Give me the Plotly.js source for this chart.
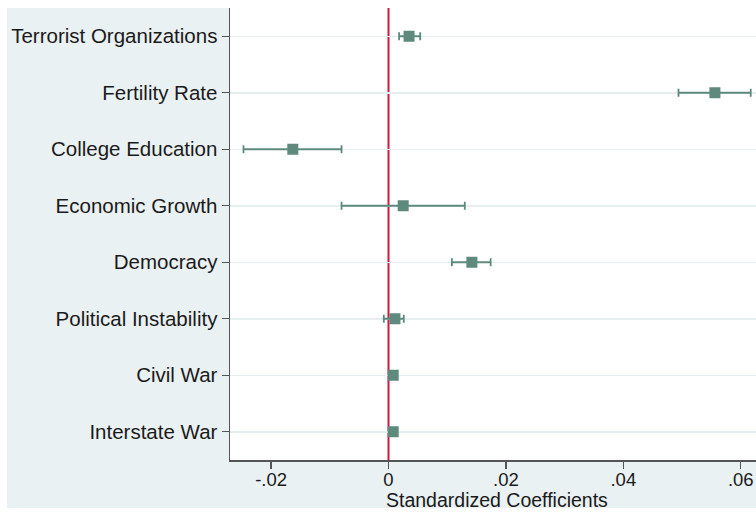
<!DOCTYPE html>
<html><head><meta charset="utf-8">
<script src="https://cdn.plot.ly/plotly-3.0.1.min.js"></script>
<style>html,body{margin:0;padding:0;background:#fff}#chart{width:756px;height:512px}</style>
</head><body><div id="chart"></div>
<script>
const categories = ["Terrorist Organizations","Fertility Rate","College Education","Economic Growth","Democracy","Political Instability","Civil War","Interstate War"];
const coef  = [0.0035, 0.0556, -0.0163, 0.0025, 0.0142, 0.0011, 0.0008, 0.0008];
const lower = [0.0018, 0.0494, -0.0247, -0.0080, 0.0108, -0.0008, 0.0004, 0.0005];
const upper = [0.0054, 0.0617, -0.0080, 0.0130, 0.0174, 0.0026, 0.0012, 0.0011];
const xTickVals = [-0.02, 0, 0.02, 0.04, 0.06];
const xTickText = ["-.02", "0", ".02", ".04", ".06"];
const xTitle = "Standardized Coefficients";

const W = 756, H = 512, L = 230, R = 0, T = 8, B = 52;
const pw = W - L - R, ph = H - T - B;
const px = v => (v - L) / pw;
const py = v => (H - B - v) / ph;
const col = "#5d8a7c";

const trace = {
  type: "scatter", mode: "markers",
  x: coef, y: categories,
  marker: {symbol: "square", size: 11, color: col},
  error_x: {type: "data", symmetric: false,
    array: upper.map((u, i) => u - coef[i]),
    arrayminus: coef.map((c, i) => c - lower[i]),
    color: col, thickness: 1.8, width: 4},
  hoverinfo: "skip", showlegend: false, cliponaxis: false
};

const font = {family: "Liberation Sans, Arial, sans-serif", size: 21, color: "#1a1a1a"};
const layout = {
  width: W, height: H,
  margin: {l: L, r: R, t: T, b: B, pad: 0},
  paper_bgcolor: "#ffffff", plot_bgcolor: "rgba(0,0,0,0)",
  font: font, showlegend: false,
  xaxis: {range: [-0.027, 0.0626], tickvals: xTickVals, ticktext: xTickText,
    ticks: "outside", ticklen: 7, tickwidth: 1.3, tickcolor: "#555",
    ticklabelstandoff: -5,
    showgrid: false, zeroline: false, showline: true, linecolor: "#555", linewidth: 1.5,
    tickfont: {size: 18.5, color: "#1a1a1a"}, fixedrange: true},
  yaxis: {type: "category", categoryarray: categories, range: [7.5, -0.5],
    ticks: "outside", ticklen: 7, tickwidth: 1.3, tickcolor: "#555",
    showgrid: true, gridcolor: "#e6eff0", gridwidth: 1.5,
    zeroline: false, showline: true, linecolor: "#555", linewidth: 1.5,
    tickfont: {size: 20.5, color: "#1a1a1a"}, fixedrange: true},
  shapes: [
    {type: "rect", xref: "paper", yref: "paper", x0: px(7), x1: 1, y0: py(508), y1: py(8),
     fillcolor: "#eaf1f3", line: {width: 0}, layer: "below"},
    {type: "rect", xref: "paper", yref: "paper", x0: 0, x1: 1, y0: 0, y1: 1,
     fillcolor: "#ffffff", line: {width: 0}, layer: "below"},
    {type: "line", xref: "x", yref: "paper", x0: 0, x1: 0, y0: 0, y1: 1,
     line: {color: "#d2163e", width: 2}, layer: "below"}
  ],
  annotations: [
    {text: xTitle, xref: "paper", yref: "paper", x: px(497), y: py(512),
     xanchor: "center", yanchor: "bottom", showarrow: false, borderpad: 0,
     font: {size: 19.5, color: "#1a1a1a"}}
  ]
};
Plotly.newPlot("chart", [trace], layout, {displayModeBar: false, staticPlot: true});
</script></body></html>
